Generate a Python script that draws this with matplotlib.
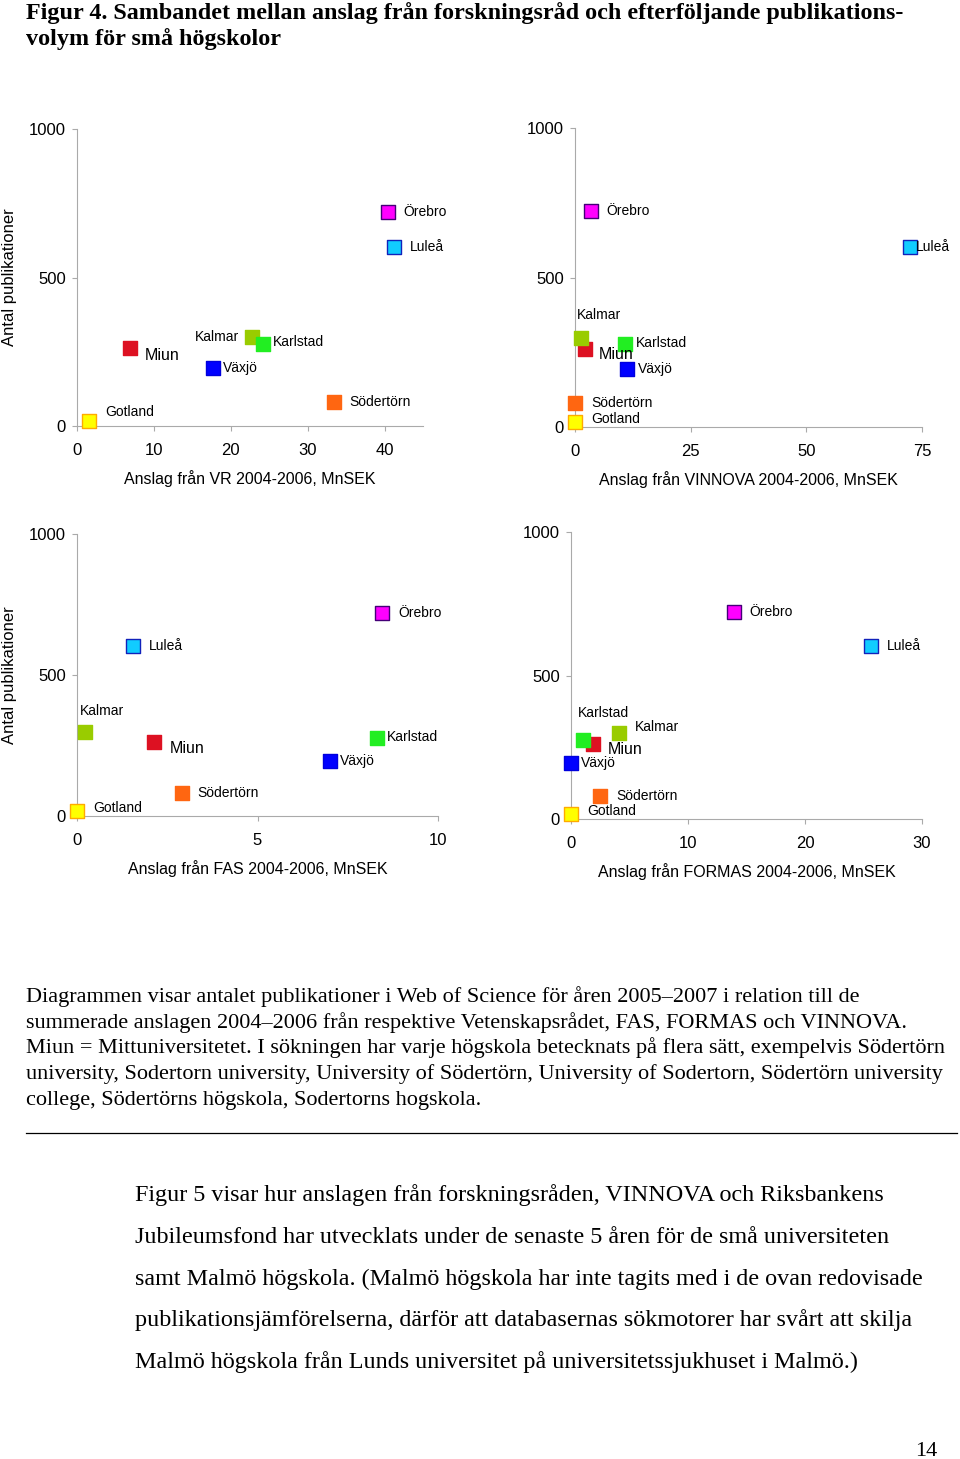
import matplotlib
matplotlib.use('Agg')
import matplotlib.pyplot as plt

# högskolor, i ritordning
names = ['Miun', 'Kalmar', 'Karlstad', 'Växjö', 'Örebro', 'Luleå', 'Södertörn', 'Gotland']
# antal publikationer 2005-2007
pubs = [262, 299, 276, 194, 721, 603, 80, 18]
# anslag 2004-2006, MnSEK
vr = [6.9, 22.8, 24.2, 17.7, 40.4, 41.2, 33.4, 1.6]
vinnova = [2.1, 1.4, 10.9, 11.2, 3.4, 72.3, 0.0, 0.0]
fas = [2.14, 0.22, 8.32, 7.02, 8.45, 1.56, 2.9, 0.0]
formas = [1.85, 4.1, 1.05, 0.0, 13.9, 25.6, 2.5, 0.0]

xlabels = ['Anslag från VR 2004-2006, MnSEK', 'Anslag från VINNOVA 2004-2006, MnSEK',
           'Anslag från FAS 2004-2006, MnSEK', 'Anslag från FORMAS 2004-2006, MnSEK']
xticks = [[0, 10, 20, 30, 40], [0, 25, 50, 75], [0, 5, 10], [0, 10, 20, 30]]
xmax = [45, 75, 10, 30]
ylabel = 'Antal publikationer'

title = ['Figur 4. Sambandet mellan anslag från forskningsråd och efterföljande publikations-',
         'volym för små högskolor']
body = ['Diagrammen visar antalet publikationer i Web of Science för åren 2005–2007 i relation till de',
        'summerade anslagen 2004–2006 från respektive Vetenskapsrådet, FAS, FORMAS och VINNOVA.',
        'Miun = Mittuniversitetet. I sökningen har varje högskola betecknats på flera sätt, exempelvis Södertörn',
        'university, Sodertorn university, University of Södertörn, University of Sodertorn, Södertörn university',
        'college, Södertörns högskola, Sodertorns hogskola.']
para = ['Figur 5 visar hur anslagen från forskningsråden, VINNOVA och Riksbankens',
        'Jubileumsfond har utvecklats under de senaste 5 åren för de små universiteten',
        'samt Malmö högskola. (Malmö högskola har inte tagits med i de ovan redovisade',
        'publikationsjämförelserna, därför att databasernas sökmotorer har svårt att skilja',
        'Malmö högskola från Lunds universitet på universitetssjukhuset i Malmö.)']

face = {'Miun': '#DD1122', 'Kalmar': '#99CC00', 'Karlstad': '#22EE22', 'Växjö': '#0000FF',
        'Örebro': '#FF00FF', 'Luleå': '#11CCFF', 'Södertörn': '#FF6611', 'Gotland': '#FFFF00'}
edge = {'Miun': '#DD1122', 'Kalmar': '#99CC00', 'Karlstad': '#22EE22', 'Växjö': '#0000DD',
        'Örebro': '#440077', 'Luleå': '#1122BB', 'Södertörn': '#FF6611', 'Gotland': '#FFAA00'}

# etikettplacering i pixlar (dx, dy uppåt, ha)
R = (16, 0, 'left')
offsets = [
    {'Örebro': R, 'Luleå': R, 'Kalmar': (-13, 0, 'right'), 'Karlstad': (10, 2, 'left'),
     'Miun': (15, -7, 'left'), 'Växjö': (10, 0, 'left'), 'Södertörn': R, 'Gotland': (16, 9, 'left')},
    {'Örebro': R, 'Luleå': (6, 0, 'left'), 'Kalmar': (-5, 23, 'left'), 'Karlstad': (10, 1, 'left'),
     'Miun': (14, -6, 'left'), 'Växjö': (11, 0, 'left'), 'Södertörn': R, 'Gotland': (16, 3, 'left')},
    {'Örebro': R, 'Luleå': R, 'Kalmar': (-5, 21, 'left'), 'Karlstad': (10, 1, 'left'),
     'Miun': (15, -6, 'left'), 'Växjö': (10, 0, 'left'), 'Södertörn': R, 'Gotland': (16, 3, 'left')},
    {'Örebro': R, 'Luleå': R, 'Karlstad': (-5, 27, 'left'), 'Kalmar': (16, 6, 'left'),
     'Miun': (15, -6, 'left'), 'Växjö': (10, 0, 'left'), 'Södertörn': R, 'Gotland': (16, 3, 'left')},
]

W, H = 960, 1459
# axes i pixlar: vänster, topp, höger, botten
boxes = [(77, 129, 423, 426), (575, 128, 922, 427), (77, 534, 438, 816), (571, 532, 922, 819)]

plt.rcParams['font.family'] = ['Liberation Sans', 'DejaVu Sans']
fig = plt.figure(figsize=(W / 100, H / 100), dpi=100)

grey = '#AAAAAA'
for i, xs in enumerate([vr, vinnova, fas, formas]):
    l, t, r, b = boxes[i]
    ax = fig.add_axes([l / W, 1 - b / H, (r - l) / W, (b - t) / H])
    ax.set_xlim(0, xmax[i])
    ax.set_ylim(0, 1000)
    ax.set_xticks(xticks[i])
    ax.set_yticks([0, 500, 1000])
    for s in ['top', 'right']:
        ax.spines[s].set_visible(False)
    for s in ['left', 'bottom']:
        ax.spines[s].set_color(grey)
        ax.spines[s].set_linewidth(0.8)
    ax.tick_params(axis='both', color=grey, length=3.5, width=0.8, labelsize=12)
    ax.tick_params(axis='x', pad=8.5)
    ax.tick_params(axis='y', pad=4.5)
    ax.patch.set_alpha(0)

    for n, x, y in zip(names, xs, pubs):
        ax.scatter(x, y, marker='s', s=105, c=face[n], edgecolors=edge[n],
                   linewidths=1.0, clip_on=False, zorder=3)
        dx, dy, ha = offsets[i][n]
        ax.annotate(n, (x, y), xytext=(dx, dy), textcoords='offset pixels',
                    ha=ha, va='center', fontsize=11.5 if n == 'Miun' else 10, zorder=4)

    ax.annotate(xlabels[i], (0.5, 0), xycoords='axes fraction', xytext=(0, -53),
                textcoords='offset pixels', ha='center', va='center', fontsize=11.5)
    if i in (0, 2):
        ax.annotate(ylabel, (0, 0.5), xycoords='axes fraction', xytext=(-67, 0),
                    textcoords='offset pixels', ha='center', va='center',
                    rotation=90, fontsize=12)

serif = ['Liberation Serif', 'DejaVu Serif']
for k, line in enumerate(title):
    fig.text(26 / W, 1 - (19 + 26 * k) / H, line, family=serif, weight='bold',
             fontsize=17.35, va='baseline')
for k, line in enumerate(body):
    fig.text(26 / W, 1 - (1002 + 25.7 * k) / H, line, family=serif,
             fontsize=16, va='baseline')
fig.add_artist(plt.Line2D([26 / W, 957 / W], [1 - 1133 / H] * 2, color='black', lw=0.9))
for k, line in enumerate(para):
    fig.text(135 / W, 1 - (1201 + 41.8 * k) / H, line, family=serif,
             fontsize=17.4, va='baseline')
fig.text(937 / W, 1 - 1456 / H, '14', family=serif, fontsize=16, ha='right', va='baseline')

fig.savefig('out.png', dpi=100)
